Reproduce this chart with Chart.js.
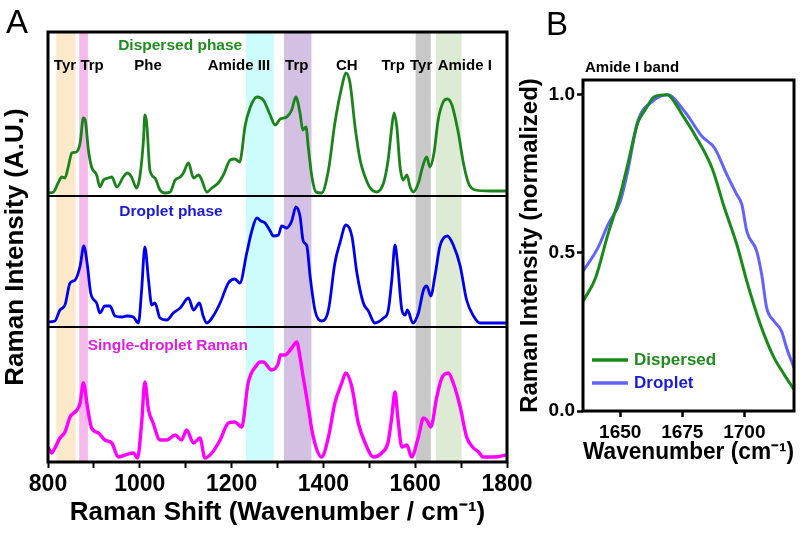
<!DOCTYPE html>
<html><head><meta charset="utf-8">
<script src="https://cdn.jsdelivr.net/npm/chart.js@4.4.1/dist/chart.umd.min.js"></script>
<style>
html,body{margin:0;padding:0;background:#fff;width:800px;height:534px;overflow:hidden;font-family:"Liberation Sans",Arial,sans-serif}
#ca{position:absolute;left:0;top:0}
#cb{position:absolute;left:515px;top:0}
.lab{position:absolute;font-size:33px;color:#000;line-height:1}
</style></head><body>
<canvas id="ca" width="545" height="534"></canvas>
<canvas id="cb" width="285" height="534"></canvas>
<div class="lab" style="left:6px;top:5px">A</div>
<div class="lab" style="left:546px;top:7px">B</div>
<script>
// ---------- Panel A data ----------
const X_TICKS_A = [800,900,1000,1100,1200,1300,1400,1500,1600,1700,1800];
const X_LABELS_A = [800,1000,1200,1400,1600,1800];

const DISPERSED_W = [800,812,822,830,837,844,852,862,870,877,881,888,895,906,913,921,931,939,950,964,973,982,993,1000,1008,1011,1015,1022,1033,1044,1055,1066,1077,1088,1095,1106,1117,1128,1135,1146,1157,1171,1182,1197,1207,1218,1222,1229,1240,1255,1269,1284,1295,1306,1320,1331,1340,1349,1355,1362,1367,1375,1384,1396,1411,1425,1440,1449,1458,1469,1480,1491,1502,1516,1531,1541,1549,1554,1560,1567,1574,1582,1589,1596,1607,1616,1625,1632,1641,1650,1661,1670,1680,1694,1705,1716,1731,1763,1796,1800];
const DISPERSED_I = [0,1,10,16,15,26,40,41,50,75,73,43,26,18,6,13,15,16,6,16,20,16,5,16,53,78,70,23,15,3,0,1,13,16,20,30,15,18,13,1,5,10,18,33,34,31,40,66,85,96,93,78,68,74,76,83,96,80,63,66,46,16,1,0,23,70,106,120,110,66,33,16,5,1,10,33,66,80,66,26,13,18,6,1,10,26,36,26,40,73,91,94,88,60,30,10,3,2,2,3];

const DROPLET_W = [800,815,826,837,848,859,870,878,886,893,906,913,924,935,946,961,972,986,997,1004,1011,1019,1026,1033,1044,1059,1073,1088,1106,1117,1130,1138,1146,1160,1175,1193,1207,1218,1233,1244,1255,1264,1273,1284,1291,1302,1309,1320,1331,1340,1349,1356,1364,1371,1382,1396,1411,1425,1436,1449,1462,1473,1487,1498,1512,1531,1541,1549,1556,1562,1571,1578,1583,1595,1607,1618,1625,1634,1643,1654,1670,1683,1698,1712,1727,1741,1770,1800];
const DROPLET_I = [1,2,13,18,40,43,57,77,57,30,20,10,17,17,7,6,7,6,0,33,76,43,18,20,5,3,10,15,25,13,20,7,0,7,20,40,44,40,70,92,105,102,100,92,87,88,97,95,102,116,107,82,77,47,12,2,13,60,80,98,87,50,20,12,0,5,12,43,78,57,13,8,13,0,10,33,37,27,47,77,87,78,57,23,7,0,0,0];

const SINGLE_W = [800,808,815,826,837,848,863,870,877,886,895,910,924,939,953,968,986,995,1004,1011,1019,1029,1044,1059,1077,1091,1102,1117,1131,1142,1157,1175,1193,1207,1222,1236,1255,1262,1269,1287,1302,1306,1316,1331,1342,1349,1356,1367,1378,1396,1411,1425,1440,1449,1462,1476,1491,1509,1527,1541,1549,1556,1562,1571,1582,1592,1607,1618,1625,1634,1647,1658,1672,1683,1698,1712,1727,1738,1748,1770,1800];
const SINGLE_I = [12,6,11,21,27,42,49,56,76,52,31,26,19,16,2,4,6,1,36,77,49,36,19,19,24,19,29,16,21,1,6,19,36,37,32,76,94,97,97,89,96,104,104,111,117,102,82,52,22,2,22,56,76,86,72,36,16,2,6,17,42,67,42,12,14,2,22,41,39,32,62,81,86,76,52,22,11,7,2,2,4];

const BAND_RANGES = [[818,860],[868,887],[1231,1292],[1314,1374],[1601,1634],[1645,1701]];
const BAND_NAMES = ['Tyr','Trp','Amide III','Trp','Tyr','Amide I'];
const PEAK_LABELS = ['Tyr','Trp','Phe','Amide III','Trp','CH','Trp','Tyr','Amide I'];
const PHASE_NAMES = ['Dispersed phase','Droplet phase','Single-droplet Raman'];

// ---------- Panel B data ----------
const B_DISP_W = [1635,1640,1645,1650,1653,1657,1660,1664,1669,1672,1675,1680,1687,1692,1697,1701,1706,1709,1712,1716,1720];
const B_DISP_I = [0.347,0.42,0.558,0.684,0.779,0.91,0.952,0.995,1.0,0.975,0.937,0.874,0.768,0.642,0.526,0.41,0.284,0.221,0.168,0.116,0.068];
const B_DROP_W = [1635,1641,1645,1650,1653,1657,1663,1669,1676,1683,1688,1693,1697,1699,1701,1705,1707,1709,1712,1715,1717,1720];
const B_DROP_I = [0.442,0.516,0.589,0.663,0.758,0.915,0.979,1.0,0.947,0.868,0.832,0.747,0.684,0.653,0.568,0.505,0.431,0.326,0.284,0.252,0.2,0.137];
const X_TICKS_B = [1650,1675,1700];
const Y_TICKS_B = [0,0.5,1.0];
const LEGEND_B = ['Dispersed','Droplet'];

// ---------- styling / layout ----------
const FONT = '"Liberation Sans", Arial, sans-serif';
Chart.defaults.font.family = FONT;
Chart.defaults.color = '#000';
const C_GREEN = '#1a841a', C_BLUE = '#0000ee', C_MAG = '#ff00ff';
const T_GREEN = '#208c20', T_BLUE = '#1a1ad8', T_MAG = '#e020e0';
const BAND_COLORS = ['#fbe9c9','#f6b9ec','#cdfcfc','#d4c0e3','#c8c8c8','#deebd4'];
const OFFSETS = [269, 139, 3];      // vertical stacking offsets of the three spectra
const SEPARATORS = [266, 135];
const PEAK_LABEL_X = [837,896,1018,1216,1342,1451,1552,1613,1708];
const PEAK_LABEL_Y = 396;
const PHASE_POS = [[1088,416],[1068,250],[1061,116]];
const PHASE_COLORS = [T_GREEN,T_BLUE,T_MAG];

function pts(w, v, off){ return w.map((x,i)=>({x:x, y:v[i]+(off||0)})); }
function noPad(s){ s.paddingLeft = 0; s.paddingRight = 0; s.paddingTop = 0; s.paddingBottom = 0; }

const decoA = {
  id:'decoA',
  beforeDatasetsDraw(c){
    const {ctx, chartArea:a, scales:{x,y}} = c;
    ctx.save();
    BAND_RANGES.forEach((b,i)=>{
      ctx.fillStyle = BAND_COLORS[i];
      const x0 = x.getPixelForValue(b[0]), x1 = x.getPixelForValue(b[1]);
      ctx.fillRect(x0, a.top, x1-x0, a.bottom-a.top);
    });
    ctx.strokeStyle = '#000'; ctx.lineWidth = 2;
    SEPARATORS.forEach(v=>{
      const py = y.getPixelForValue(v);
      ctx.beginPath(); ctx.moveTo(a.left,py); ctx.lineTo(a.right,py); ctx.stroke();
    });
    ctx.restore();
  },
  afterDatasetsDraw(c){
    const {ctx, chartArea:a, scales:{x,y}} = c;
    ctx.save();
    ctx.strokeStyle = '#000'; ctx.lineWidth = 3;
    ctx.strokeRect(a.left, a.top, a.right-a.left, a.bottom-a.top);
    ctx.textAlign = 'center'; ctx.textBaseline = 'middle';
    ctx.font = 'bold 15px ' + FONT; ctx.fillStyle = '#000';
    PEAK_LABELS.forEach((t,i)=>{
      ctx.fillText(t, x.getPixelForValue(PEAK_LABEL_X[i]), y.getPixelForValue(PEAK_LABEL_Y));
    });
    PHASE_NAMES.forEach((t,i)=>{
      ctx.fillStyle = PHASE_COLORS[i];
      ctx.font = 'bold 15.5px ' + FONT;
      ctx.fillText(t, x.getPixelForValue(PHASE_POS[i][0]), y.getPixelForValue(PHASE_POS[i][1]));
    });
    ctx.restore();
  }
};

new Chart(document.getElementById('ca'), {
  type:'line',
  data:{datasets:[
    {label:PHASE_NAMES[0], data:pts(DISPERSED_W,DISPERSED_I,OFFSETS[0]), borderColor:C_GREEN, borderWidth:2.8},
    {label:PHASE_NAMES[1], data:pts(DROPLET_W,DROPLET_I,OFFSETS[1]), borderColor:C_BLUE, borderWidth:2.8},
    {label:PHASE_NAMES[2], data:pts(SINGLE_W,SINGLE_I,OFFSETS[2]), borderColor:C_MAG, borderWidth:3.4}
  ]},
  options:{
    responsive:false, animation:false,
    layout:{padding:{left:0,top:32,right:38,bottom:0}},
    elements:{point:{radius:0}, line:{cubicInterpolationMode:'monotone', borderJoinStyle:'round'}},
    plugins:{legend:{display:false}, tooltip:{enabled:false}},
    scales:{
      x:{type:'linear', min:800, max:1800,
        afterBuildTicks(s){ s.ticks = X_TICKS_A.map(v=>({value:v})); },
        ticks:{autoSkip:false, maxRotation:0, padding:3, font:{size:23, weight:'bold'},
          callback:(v)=> X_LABELS_A.includes(v) ? String(v) : ''},
        grid:{drawOnChartArea:false, drawTicks:true, tickLength:6, tickWidth:2, tickColor:'#000'},
        border:{display:false},
        title:{display:true, text:'Raman Shift (Wavenumber / cm\u207B\u00B9)', font:{size:26, weight:'bold'}, padding:{top:0,bottom:6}},
        afterFit(s){ s.height = 72; noPad(s); }
      },
      y:{type:'linear', min:0, max:430,
        ticks:{display:false}, grid:{display:false}, border:{display:false},
        title:{display:true, text:'Raman Intensity (A.U.)', font:{size:26, weight:'bold'}, padding:{top:0,bottom:0}},
        afterFit(s){ s.width = 48; noPad(s); }
      }
    }
  },
  plugins:[decoA]
});

const decoB = {
  id:'decoB',
  afterDatasetsDraw(c){
    const {ctx, chartArea:a} = c;
    ctx.save();
    ctx.strokeStyle = '#000'; ctx.lineWidth = 3;
    ctx.strokeRect(a.left, a.top, a.right-a.left, a.bottom-a.top);
    ctx.fillStyle = '#000'; ctx.font = 'bold 15px ' + FONT;
    ctx.textAlign = 'left'; ctx.textBaseline = 'alphabetic';
    ctx.fillText('Amide I band', a.left + 2, a.top - 8);
    const ly = [360, 383];
    const tc = [T_GREEN, T_BLUE];
    c.data.datasets.forEach((ds,i)=>{
      ctx.strokeStyle = ds.borderColor; ctx.lineWidth = 3.5;
      ctx.beginPath(); ctx.moveTo(a.left+9, ly[i]); ctx.lineTo(a.left+45, ly[i]); ctx.stroke();
      ctx.fillStyle = tc[i]; ctx.font = 'bold 17px ' + FONT; ctx.textBaseline = 'middle';
      ctx.fillText(ds.label, a.left+51, ly[i]);
    });
    ctx.restore();
  }
};

new Chart(document.getElementById('cb'), {
  type:'line',
  data:{datasets:[
    {label:LEGEND_B[0], data:pts(B_DISP_W,B_DISP_I), borderColor:'#178a17', borderWidth:3},
    {label:LEGEND_B[1], data:pts(B_DROP_W,B_DROP_I), borderColor:'#6262ff', borderWidth:3}
  ]},
  options:{
    responsive:false, animation:false,
    layout:{padding:{left:0,top:80,right:6,bottom:0}},
    elements:{point:{radius:0}, line:{cubicInterpolationMode:'monotone'}},
    plugins:{legend:{display:false}, tooltip:{enabled:false}},
    scales:{
      x:{type:'linear', min:1635, max:1720,
        afterBuildTicks(s){ s.ticks = X_TICKS_B.map(v=>({value:v})); },
        ticks:{autoSkip:false, maxRotation:0, padding:4, font:{size:19, weight:'bold'}, callback:(v)=>String(v)},
        grid:{drawOnChartArea:false, tickLength:6, tickWidth:2.5, tickColor:'#000'},
        border:{display:false},
        title:{display:true, text:'Wavenumber (cm\u207B\u00B9)', font:{size:23, weight:'bold'}, padding:{top:0,bottom:68}},
        afterFit(s){ s.height = 123; noPad(s); }
      },
      y:{type:'linear', min:0, max:1.047,
        afterBuildTicks(s){ s.ticks = Y_TICKS_B.map(v=>({value:v})); },
        ticks:{padding:2, font:{size:19, weight:'bold'}, callback:(v)=>Number(v).toFixed(1)},
        grid:{drawOnChartArea:false, tickLength:6, tickWidth:2.5, tickColor:'#000'},
        border:{display:false},
        title:{display:true, text:'Raman Intensity (normalized)', font:{size:24, weight:'bold'}, padding:{top:1,bottom:0}},
        afterFit(s){ s.width = 68; noPad(s); }
      }
    }
  },
  plugins:[decoB]
});
</script>
</body></html>
